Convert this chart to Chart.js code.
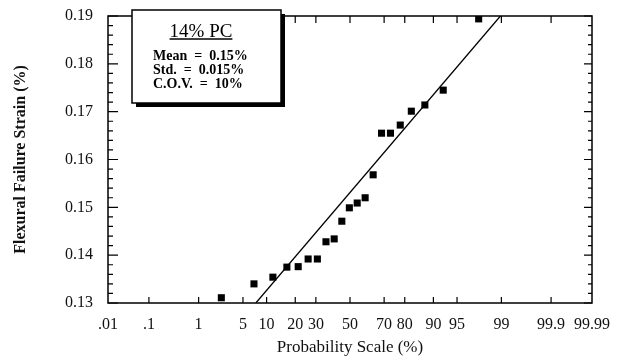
<!DOCTYPE html>
<html>
<head>
<meta charset="utf-8">
<script src="https://cdn.jsdelivr.net/npm/chart.js@4/dist/chart.umd.min.js"></script>
<style>
  html, body { margin: 0; padding: 0; background: #fff; }
</style>
</head>
<body>
<canvas id="chart" width="626" height="358"></canvas>
<script>
// probability (%) of each specimen and its failure strain (%)
const probability = [2.4, 7.0, 11.8, 16.6, 21.3, 26.0, 30.8, 35.6, 40.4, 45.0, 49.6,
                     54.4, 59.2, 63.9, 68.6, 73.3, 78.0, 82.7, 87.5, 92.4, 97.6];
const strain = [0.1311, 0.1340, 0.1354, 0.1375, 0.1376, 0.1392, 0.1392, 0.1428, 0.1434, 0.1471, 0.1499,
                0.1509, 0.1520, 0.1568, 0.1655, 0.1655, 0.1672, 0.1701, 0.1714, 0.1745, 0.1894];

// fitted normal line, two end points
const fitProbability = [7.4, 98.96];
const fitStrain = [0.13, 0.19];

const probTicks = [0.01, 0.1, 1, 5, 10, 20, 30, 50, 70, 80, 90, 95, 99, 99.9, 99.99];
const probLabels = ['.01', '.1', '1', '5', '10', '20', '30', '50', '70', '80', '90', '95', '99', '99.9', '99.99'];

const boxTitle = '14% PC';
const boxRows = ['Mean  =  0.15%', 'Std.  =  0.015%', 'C.O.V.  =  10%'];

const SERIF = '"Liberation Serif", "Times New Roman", serif';

// inverse standard normal cdf (Acklam)
function probit(p) {
    const a = [-3.969683028665376e+01, 2.209460984245205e+02, -2.759285104469687e+02,
               1.383577518672690e+02, -3.066479806614716e+01, 2.506628277459239e+00];
    const b = [-5.447609879822406e+01, 1.615858368580409e+02, -1.556989798598866e+02,
               6.680131188771972e+01, -1.328068155288572e+01];
    const c = [-7.784894002430293e-03, -3.223964580411365e-01, -2.400758277161838e+00,
               -2.549732539343734e+00, 4.374664141464968e+00, 2.938163982698783e+00];
    const d = [7.784695709041462e-03, 3.224671290700398e-01, 2.445134137142996e+00,
               3.754408661907416e+00];
    const lo = 0.02425, hi = 1 - lo;
    let q, r;
    if (p < lo) {
        q = Math.sqrt(-2 * Math.log(p));
        return (((((c[0]*q+c[1])*q+c[2])*q+c[3])*q+c[4])*q+c[5]) / ((((d[0]*q+d[1])*q+d[2])*q+d[3])*q+1);
    }
    if (p > hi) {
        q = Math.sqrt(-2 * Math.log(1 - p));
        return -(((((c[0]*q+c[1])*q+c[2])*q+c[3])*q+c[4])*q+c[5]) / ((((d[0]*q+d[1])*q+d[2])*q+d[3])*q+1);
    }
    q = p - 0.5;
    r = q * q;
    return (((((a[0]*r+a[1])*r+a[2])*r+a[3])*r+a[4])*r+a[5])*q / (((((b[0]*r+b[1])*r+b[2])*r+b[3])*r+b[4])*r+1);
}

function normCdf(z) {
    const t = 1 / (1 + 0.3275911 * Math.abs(z) / Math.SQRT2);
    const y = 1 - (((((1.061405429*t - 1.453152027)*t) + 1.421413741)*t - 0.284496736)*t + 0.254829592)*t * Math.exp(-z*z/2);
    return 0.5 * (1 + (z >= 0 ? y : -y));
}

// probability paper axis
class ProbabilityScale extends Chart.LinearScale {
    static id = 'probability';
    determineDataLimits() {
        this.min = this.options.min;
        this.max = this.options.max;
    }
    buildTicks() {
        return probTicks.map(v => ({value: v}));
    }
    getPixelForValue(v) {
        const a = probit(this.min / 100), b = probit(this.max / 100);
        return this.getPixelForDecimal((probit(v / 100) - a) / (b - a));
    }
    getValueForPixel(px) {
        const a = probit(this.min / 100), b = probit(this.max / 100);
        return 100 * normCdf(a + this.getDecimalForPixel(px) * (b - a));
    }
}
Chart.register(ProbabilityScale);

const framePlugin = {
    id: 'frame',
    beforeDatasetsDraw(chart) {
        const {ctx, chartArea: {left, right, top, bottom}, scales: {x, y}} = chart;
        ctx.save();
        ctx.strokeStyle = '#000';
        ctx.lineWidth = 1.5;
        ctx.strokeRect(left, top, right - left, bottom - top);
        ctx.lineWidth = 1.2;
        ctx.beginPath();
        x.ticks.forEach((t, i) => {
            if (i === 0 || i === x.ticks.length - 1) return;
            const px = x.getPixelForValue(t.value);
            ctx.moveTo(px, bottom); ctx.lineTo(px, bottom - 6);
            ctx.moveTo(px, top); ctx.lineTo(px, top + 7);
        });
        for (let i = 0; i <= 30; i++) {
            const py = y.getPixelForValue(0.13 + i * 0.002);
            const major = i % 5 === 0;
            ctx.moveTo(left, py); ctx.lineTo(left + (major ? 10 : 5), py);
            ctx.moveTo(right, py); ctx.lineTo(right - (major ? 8 : 4), py);
        }
        ctx.stroke();
        ctx.restore();
    },
    afterDraw(chart) {
        const ctx = chart.ctx;
        const bx = 132, by = 10, bw = 149, bh = 93;
        ctx.save();
        ctx.fillStyle = '#000';
        ctx.fillRect(bx + 4, by + 4, bw, bh);
        ctx.fillStyle = '#fff';
        ctx.fillRect(bx, by, bw, bh);
        ctx.strokeStyle = '#000';
        ctx.lineWidth = 1.5;
        ctx.strokeRect(bx, by, bw, bh);

        ctx.fillStyle = '#000';
        ctx.font = '19px ' + SERIF;
        ctx.textAlign = 'center';
        ctx.textBaseline = 'alphabetic';
        ctx.fillText(boxTitle, 201, 37);
        const tw = ctx.measureText(boxTitle).width;
        ctx.lineWidth = 1.4;
        ctx.beginPath();
        ctx.moveTo(201 - tw / 2, 39); ctx.lineTo(201 + tw / 2, 39);
        ctx.stroke();

        ctx.font = 'bold 14px ' + SERIF;
        ctx.textAlign = 'left';
        boxRows.forEach((row, i) => {
            ctx.fillText(row, 153, 60 + i * 14);
        });
        ctx.restore();
    }
};

const points = probability.map((p, i) => ({x: p, y: strain[i]}));
const fitLine = fitProbability.map((p, i) => ({x: p, y: fitStrain[i]}));

new Chart(document.getElementById('chart'), {
    type: 'scatter',
    data: {
        datasets: [
            {
                data: fitLine,
                showLine: true,
                borderColor: '#000',
                borderWidth: 1.3,
                pointRadius: 0
            },
            {
                data: points,
                pointStyle: 'rect',
                pointRadius: 5,
                backgroundColor: '#000',
                borderWidth: 0
            }
        ]
    },
    options: {
        responsive: false,
        animation: false,
        layout: { autoPadding: false, padding: { top: 16, right: 34, left: 0, bottom: 0 } },
        plugins: { legend: { display: false }, tooltip: { enabled: false } },
        scales: {
            x: {
                type: 'probability',
                min: 0.01,
                max: 99.99,
                grid: { display: false, drawTicks: false },
                border: { display: false },
                afterFit: s => { s.height = 55; s.paddingLeft = 0; s.paddingRight = 0; },
                ticks: {
                    autoSkip: false,
                    maxRotation: 0,
                    padding: 12,
                    color: '#111',
                    font: { family: SERIF, size: 16 },
                    callback: (v, i) => probLabels[i]
                },
                title: {
                    display: true,
                    text: 'Probability Scale (%)',
                    color: '#111',
                    font: { family: SERIF, size: 17 },
                    padding: { top: 0, bottom: 0 }
                }
            },
            y: {
                min: 0.13,
                max: 0.19,
                grid: { display: false, drawTicks: false },
                border: { display: false },
                afterFit: s => { s.width = 108; s.paddingTop = 0; s.paddingBottom = 0; },
                ticks: {
                    stepSize: 0.01,
                    padding: 15,
                    color: '#111',
                    font: { family: SERIF, size: 16 },
                    callback: v => v.toFixed(2)
                },
                title: {
                    display: true,
                    text: 'Flexural Failure Strain (%)',
                    color: '#111',
                    font: { family: SERIF, size: 16, weight: 'bold' },
                    padding: { top: 11 }
                }
            }
        }
    },
    plugins: [framePlugin]
});
</script>
</body>
</html>
